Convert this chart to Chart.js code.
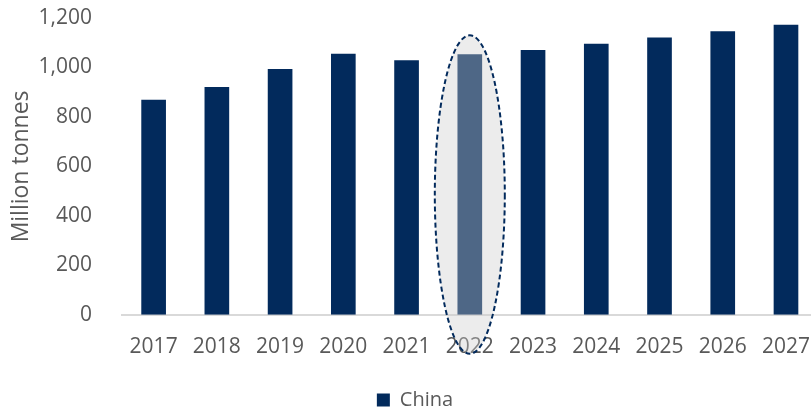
<!DOCTYPE html>
<html>
<head>
<meta charset="utf-8">
<script src="https://cdn.jsdelivr.net/npm/chart.js@4"></script>
<style>
  html, body { margin: 0; padding: 0; background: #fff; overflow: hidden; }
  #wrap { width: 822px; height: 410px; }
</style>
</head>
<body>
<div id="wrap"><canvas id="myChinaChart"></canvas></div>
<script>
// China - Chart
var years = ["2017","2018","2019","2020","2021","2022","2023","2024","2025","2026","2027"];
var china = [869, 921, 994, 1055, 1029, 1053, 1071, 1096, 1121, 1146, 1173];
var yTicks = [0, 200, 400, 600, 800, 1000, 1200];
var highlightIndex = 5;

var navy = "#022a5c";
var grey = "#595959";

// dashed ellipse round the 2022 bar
var ellipsePlugin = {
  id: 'highlightEllipse',
  afterDraw: function(chart) {
    var x = chart.scales.x, y = chart.scales.y, c = chart.ctx;
    var cx = x.getPixelForValue(highlightIndex);
    var top = y.getPixelForValue(1130);
    var bottom = y.bottom + 39;
    var ry = (bottom - top) / 2;
    var rx = 35;
    c.save();
    c.beginPath();
    c.ellipse(cx, top + ry, rx, ry, 0, 0, Math.PI * 2);
    c.fillStyle = "rgba(204,204,204,0.375)";
    c.fill();
    c.setLineDash([5, 3]);
    c.lineWidth = 2;
    c.strokeStyle = navy;
    c.stroke();
    c.restore();
  }
};

var ctx = document.getElementById("myChinaChart");
var myChinaChart = new Chart(ctx, {
  type: 'bar',
  data: {
    labels: years,
    datasets: [{
        data: china,
        label: "China",
        backgroundColor: navy,
        barPercentage: 0.78,
        categoryPercentage: 0.5
      }
    ]
  },
  options: {
    responsive: true,
    maintainAspectRatio: false,
    animation: false,
    layout: { padding: { top: 18, right: 0, left: 8, bottom: -10 } },
    plugins: {
      legend: {
        display: true,
        position: 'bottom',
        labels: {
          color: grey,
          font: { family: "Open Sans", size: 20 },
          boxWidth: 13,
          boxHeight: 13,
          padding: 12
        }
      },
      tooltip: { enabled: false }
    },
    scales: {
      x: {
        grid: { display: false },
        border: { display: true, color: "#d9d9d9", width: 2 },
        ticks: { color: grey, font: { family: "Open Sans", size: 21 }, maxRotation: 0, padding: 12 },
        afterFit: function(axis) { axis.height += 6; }
      },
      y: {
        min: 0,
        max: 1200,
        afterBuildTicks: function(axis) { axis.ticks = yTicks.map(function(v) { return { value: v }; }); },
        afterFit: function(axis) { axis.width = 114; axis.paddingTop = 0; },
        grid: { display: false },
        border: { display: false },
        ticks: {
          color: grey,
          font: { family: "Open Sans", size: 21 },
          padding: 22,
          callback: function(v) { return v.toLocaleString('en-US'); }
        },
        title: {
          display: true,
          text: "Million tonnes",
          color: grey,
          font: { family: "Open Sans", size: 23 },
          padding: { top: 0, bottom: 2 }
        }
      }
    }
  },
  plugins: [ellipsePlugin]
});
</script>
</body>
</html>
